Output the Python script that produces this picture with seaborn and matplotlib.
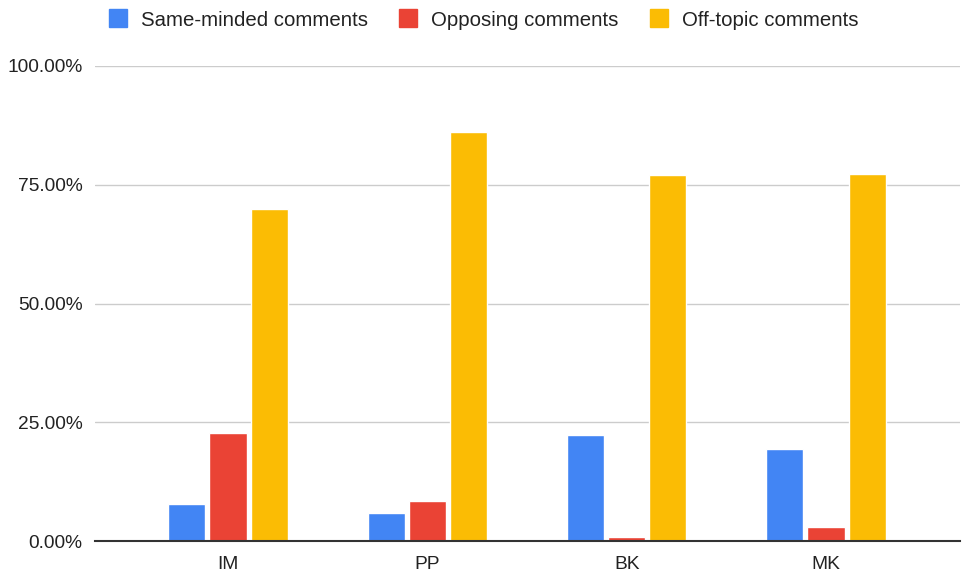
import matplotlib
matplotlib.use("Agg")
import matplotlib.pyplot as plt
import seaborn as sns
import pandas as pd
from matplotlib.ticker import FuncFormatter
from matplotlib.lines import Line2D

categories = ["IM", "PP", "BK", "MK"]
same_minded = [0.078, 0.0595, 0.224, 0.194]
opposing = [0.227, 0.084, 0.009, 0.030]
off_topic = [0.698, 0.861, 0.770, 0.772]
series_names = ["Same-minded comments", "Opposing comments", "Off-topic comments"]
colors = ["#4285F4", "#EA4335", "#FBBC04"]
yticks = [0, 0.25, 0.5, 0.75, 1.0]

rows = []
for name, vals in zip(series_names, [same_minded, opposing, off_topic]):
    for c, v in zip(categories, vals):
        rows.append({"category": c, "series": name, "value": v})
df = pd.DataFrame(rows)

sns.set_theme(style="white")
plt.rcParams["font.family"] = ["Liberation Sans", "DejaVu Sans"]

fig = plt.figure(figsize=(9.63, 5.71), dpi=100)
ax = fig.add_axes([95/963, 1 - 541/571, 865/963, (541 - 66)/571])

sns.barplot(data=df, x="category", y="value", hue="series", order=categories,
            hue_order=series_names, palette=colors, width=0.62, gap=0.1,
            ax=ax, legend=False, saturation=1)

ax.set_xlim(-0.667, 3.672)
ax.set_ylim(0, 1.0)
ax.set_yticks(yticks)
ax.yaxis.set_major_formatter(FuncFormatter(lambda v, p: f"{v*100:.2f}%"))
ax.grid(axis="y", color="#cccccc", linewidth=1)
ax.set_axisbelow(True)
for s in ["top", "right", "left"]:
    ax.spines[s].set_visible(False)
ax.spines["bottom"].set_color("#333333")
ax.spines["bottom"].set_linewidth(1.5)
ax.spines["bottom"].set_zorder(5)
ax.set_xlabel("")
ax.set_ylabel("")
ax.tick_params(axis="both", length=0, labelsize=13.8, colors="#222222")
ax.tick_params(axis="y", pad=9)
ax.tick_params(axis="x", pad=10.5)

handles = [Line2D([], [], marker="s", linestyle="", markersize=13,
                  markerfacecolor=c, markeredgecolor=c) for c in colors]
fig.legend(handles, series_names, loc="center", bbox_to_anchor=(483/963, 1 - 20/571),
           ncol=3, frameon=False, fontsize=14.7, handletextpad=0.6,
           columnspacing=1.5, handlelength=1.0, labelcolor="#222222")

fig.savefig("out.png", dpi=100)
